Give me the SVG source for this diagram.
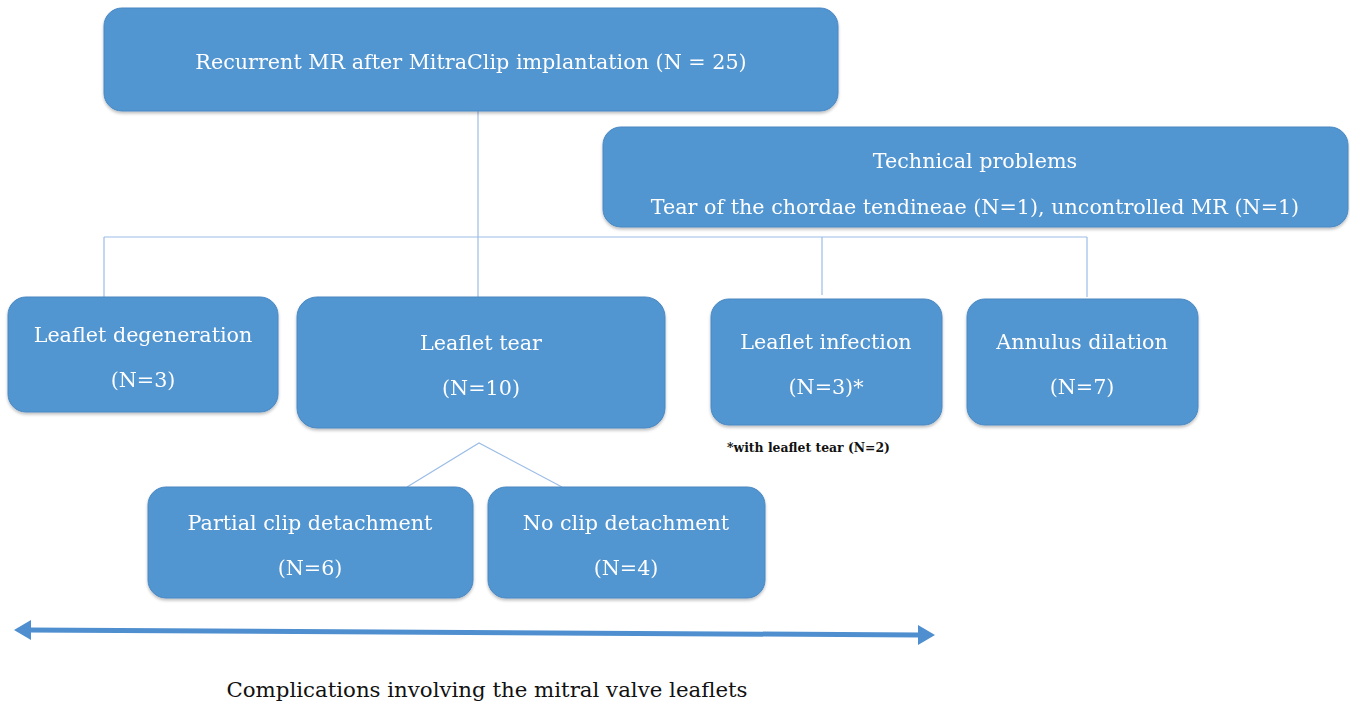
<svg xmlns="http://www.w3.org/2000/svg" width="1350" height="701" viewBox="0 0 1350 701">
<style>
.box{fill:#5195d1;stroke:#4a88c2;stroke-width:1}
.t{font-family:"DejaVu Serif","Liberation Serif",serif;font-size:20.7px;fill:#ffffff;text-anchor:middle}
.c{stroke:#9cbde6;stroke-width:1.2;fill:none}
</style>
<defs>
<filter id="sh" x="-5%" y="-5%" width="110%" height="115%"><feDropShadow dx="0" dy="2" stdDeviation="1.5" flood-color="#000" flood-opacity="0.25"/></filter>
</defs>
<rect width="1350" height="701" fill="#ffffff"/>
<g id="connectors">
<line class="c" x1="478" y1="111" x2="478" y2="297"/>
<line class="c" x1="104" y1="237" x2="1087" y2="237"/>
<line class="c" x1="104" y1="237" x2="104" y2="297"/>
<line class="c" x1="822" y1="237" x2="822" y2="295"/>
<line class="c" x1="1087" y1="237" x2="1087" y2="297"/>
<polyline class="c" points="407,487 479,443 562,487"/>
</g>
<g id="n-root" filter="url(#sh)"><rect class="box" x="104" y="8" width="734" height="103" rx="18"/>
<text class="t" x="471" y="69">Recurrent MR after MitraClip implantation (N = 25)</text></g>
<g id="n-technical" filter="url(#sh)"><rect class="box" x="603" y="127" width="745" height="100" rx="18"/>
<text class="t" x="975" y="168">Technical problems</text>
<text class="t" x="975" y="214">Tear of the chordae tendineae (N=1), uncontrolled MR (N=1)</text></g>
<g id="n-degeneration" filter="url(#sh)"><rect class="box" x="8" y="297" width="270" height="115" rx="18"/>
<text class="t" x="143" y="342">Leaflet degeneration</text>
<text class="t" x="143" y="387">(N=3)</text></g>
<g id="n-tear" filter="url(#sh)"><rect class="box" x="297" y="297" width="368" height="131" rx="20"/>
<text class="t" x="481" y="350">Leaflet tear</text>
<text class="t" x="481" y="395">(N=10)</text></g>
<g id="n-infection" filter="url(#sh)"><rect class="box" x="711" y="299" width="231" height="126" rx="18"/>
<text class="t" x="826" y="349">Leaflet infection</text>
<text class="t" x="826" y="394">(N=3)*</text></g>
<g id="n-annulus" filter="url(#sh)"><rect class="box" x="967" y="299" width="231" height="126" rx="18"/>
<text class="t" x="1082" y="349">Annulus dilation</text>
<text class="t" x="1082" y="394">(N=7)</text></g>
<text x="727" y="452" font-family="DejaVu Serif, Liberation Serif, serif" font-size="12.4" font-weight="bold" fill="#111">*with leaflet tear (N=2)</text>
<g id="n-partial" filter="url(#sh)"><rect class="box" x="148" y="487" width="325" height="111" rx="18"/>
<text class="t" x="310" y="530">Partial clip detachment</text>
<text class="t" x="310" y="575">(N=6)</text></g>
<g id="n-noclip" filter="url(#sh)"><rect class="box" x="488" y="487" width="277" height="111" rx="18"/>
<text class="t" x="626" y="530">No clip detachment</text>
<text class="t" x="626" y="575">(N=4)</text></g>
<g id="arrow">
<line x1="28" y1="630" x2="919" y2="635" stroke="#4f8fcf" stroke-width="5"/>
<polygon points="14,630 31,620 31,640" fill="#4f8fcf"/>
<polygon points="935,635 918,625 918,645" fill="#4f8fcf"/>
</g>
<text x="487" y="697" font-family="DejaVu Serif, Liberation Serif, serif" font-size="21.3" fill="#111" text-anchor="middle">Complications involving the mitral valve leaflets</text>
</svg>
